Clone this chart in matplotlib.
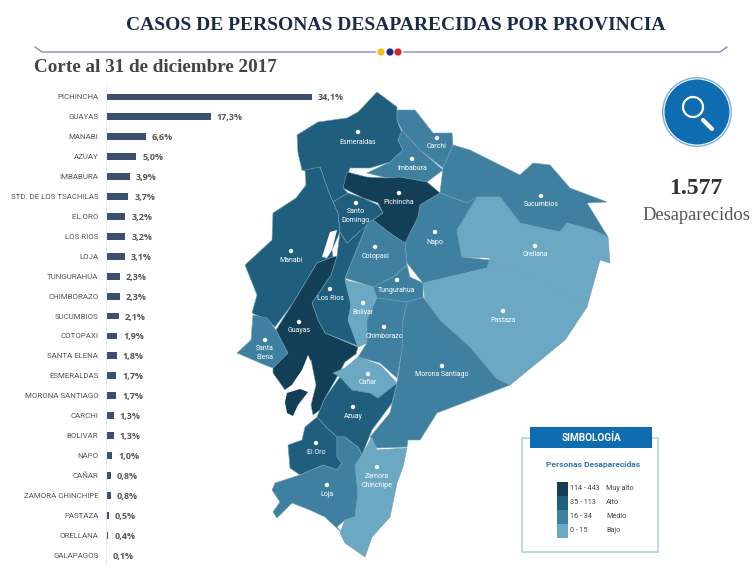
import matplotlib
matplotlib.use('Agg')
import matplotlib.pyplot as plt
from matplotlib.patches import Polygon, Circle, Rectangle

# Datos del grafico de barras
provincias = ['PICHINCHA', 'GUAYAS', 'MANABI', 'AZUAY', 'IMBABURA', 'STD. DE LOS TSACHILAS', 'EL ORO',
              'LOS RIOS', 'LOJA', 'TUNGURAHUA', 'CHIMBORAZO', 'SUCUMBIOS', 'COTOPAXI', 'SANTA ELENA',
              'ESMERALDAS', 'MORONA SANTIAGO', 'CARCHI', 'BOLIVAR', 'NAPO', 'CAÑAR', 'ZAMORA CHINCHIPE',
              'PASTAZA', 'ORELLANA', 'GALAPAGOS']
porcentajes = [34.1, 17.3, 6.6, 5.0, 3.9, 3.7, 3.2, 3.2, 3.1, 2.3, 2.3, 2.1, 1.9, 1.8, 1.7, 1.7,
               1.3, 1.3, 1.0, 0.8, 0.8, 0.5, 0.4, 0.1]

# Contornos de las provincias (pixeles de la imagen)
esmeraldas = [(297,135),(318,122),(347,118),(358,112),(377,92),(397,107),(397,120),(402,133),(398,140),(403,150),
              (390,162),(370,168),(350,168),(343,188),(348,193),(333,202),(328,190),(320,167),(308,172),(302,170),(298,153)]
manabi = [(305,170),(320,167),(328,190),(333,202),(338,213),(340,232),(332,250),(333,257),(317,263),(293,303),(275,327),
          (267,320),(252,313),(257,295),(245,265),(272,240),(273,213),(296,198),(306,185)]
santa_elena = [(253,315),(267,318),(276,330),(288,353),(273,368),(265,365),(237,353),(251,340)]
guayas = [(317,263),(333,257),(337,256),(331,275),(312,303),(318,320),(325,333),(358,347),(356,354),(345,362),(337,377),
          (325,398),(320,410),(313,415),(311,405),(316,385),(311,360),(306,365),(292,385),(285,390),(273,373),(273,368),
          (288,353),(276,330),(293,303)]
golfo = [(285,390),(292,385),(302,370),(308,355),(311,362),(314,385),(310,405),(305,420),(296,395),(287,393)]
puna = [(287,393),(300,389),(308,392),(298,405),(293,416),(287,413),(285,402)]
los_rios = [(340,232),(347,243),(358,233),(368,222),(345,278),(351,305),(348,320),(358,346),(325,333),(318,320),(312,303),
            (331,275),(337,256)]
laguna = [(337,230),(330,232),(322,257),(327,258),(332,250)]
sto_domingo = [(348,193),(363,198),(378,205),(383,213),(373,220),(358,233),(347,243),(340,232),(338,213),(333,202)]
pichincha = [(347,172),(367,177),(387,178),(400,177),(427,182),(440,193),(420,205),(418,217),(405,243),(390,233),(373,220),
             (383,213),(378,203),(363,198),(343,188)]
imbabura = [(367,173),(390,162),(403,150),(398,140),(402,130),(420,150),(443,170),(427,182),(400,177),(387,178)]
carchi = [(397,110),(415,110),(433,133),(452,133),(453,145),(443,168),(420,150),(402,130),(397,120)]
sucumbios = [(453,145),(470,150),(520,175),(533,163),(550,165),(570,188),(607,202),(587,203),(608,237),(593,230),(567,223),
             (560,232),(537,227),(520,223),(500,197),(477,197),(467,203),(440,193),(443,168)]
napo = [(440,193),(467,203),(477,197),(478,213),(457,230),(462,257),(490,260),(487,268),(457,275),(423,283),(407,263),
        (405,243),(418,217),(420,205)]
orellana = [(457,230),(477,197),(500,197),(520,223),(537,227),(560,232),(567,223),(593,230),(608,237),(610,263),(600,260),
            (587,307),(527,273),(487,268),(490,258),(462,257)]
pastaza = [(423,283),(457,275),(487,268),(527,273),(587,307),(565,340),(510,385),(497,379),(470,347),(440,320),(425,300)]
morona = [(510,385),(497,379),(470,347),(440,320),(423,297),(407,302),(403,320),(402,350),(397,383),(390,413),(370,437),
          (377,448),(407,447),(408,440),(420,440),(437,413)]
tungurahua = [(373,287),(393,277),(407,265),(410,277),(423,283),(423,297),(407,302),(393,300),(377,298)]
cotopaxi = [(368,222),(373,220),(390,233),(405,243),(407,265),(393,277),(373,287),(345,278)]
bolivar = [(345,280),(373,287),(377,298),(367,320),(367,343),(358,347),(348,320),(351,305)]
chimborazo = [(377,298),(393,300),(407,302),(403,320),(402,350),(397,378),(380,363),(358,357),(367,343),(367,320)]
canar = [(358,357),(380,365),(397,383),(378,398),(370,393),(352,390),(340,377),(333,373),(345,368)]
azuay = [(340,377),(352,390),(370,393),(378,398),(397,383),(392,403),(372,430),(362,455),(358,447),(345,437),(337,437),
         (327,428),(317,417),(325,398)]
el_oro = [(317,417),(327,428),(337,437),(337,457),(342,463),(337,470),(323,465),(300,475),(290,468),(288,445),(302,440),(305,427)]
loja = [(337,437),(345,437),(358,447),(362,455),(355,465),(358,493),(355,517),(345,520),(337,527),(342,533),(325,517),(310,510),
        (292,503),(277,518),(273,512),(280,502),(272,490),(275,483),(300,475),(323,465),(337,470),(342,463),(337,457)]
zamora = [(372,437),(377,450),(407,448),(403,467),(397,483),(390,517),(372,537),(365,557),(345,543),(340,533),(345,520),
          (355,517),(358,493),(355,465),(362,455)]

niveles = ['114 - 443', '35 - 113', '16 - 34', '0 - 15']
nombres_nivel = ['Muy alto', 'Alto', 'Medio', 'Bajo']
colores_nivel = ['#123f55', '#1f5f7d', '#3f80a0', '#6ba8c4']

mapa = [(esmeraldas, 1), (manabi, 1), (santa_elena, 2), (los_rios, 1), (guayas, 0), (sto_domingo, 1), (imbabura, 2),
        (carchi, 2), (sucumbios, 2), (napo, 2), (orellana, 3), (pastaza, 3), (morona, 2), (tungurahua, 2), (cotopaxi, 2),
        (bolivar, 3), (chimborazo, 2), (canar, 3), (azuay, 1), (el_oro, 1), (loja, 2), (zamora, 3), (pichincha, 0)]

# Nombres en el mapa: nombre, x del punto, y del punto, y del texto
etiquetas = [('Esmeraldas', 358, 132, 142), ('Carchi', 437, 138, 147), ('Imbabura', 412, 159, 168), ('Pichincha', 399, 193, 202),
             ('Santo\nDomingo', 356, 203, 216), ('Sucumbios', 541, 196, 205), ('Napo', 435, 232, 242), ('Orellana', 535, 246, 255),
             ('Manabí', 291, 251, 261), ('Cotopaxi', 375, 247, 257), ('Tungurahua', 397, 280, 290), ('Los Ríos', 330, 289, 299),
             ('Bolívar', 363, 303, 313), ('Pastaza', 503, 311, 320), ('Guayas', 299, 322, 331), ('Chimborazo', 384, 327, 337),
             ('Santa\nElena', 265, 340, 353), ('Morona Santiago', 442, 366, 375), ('Cañar', 368, 374, 383), ('Azuay', 353, 407, 416),
             ('El Oro', 316, 443, 452), ('Zamora\nChinchipe', 377, 467, 481), ('Loja', 327, 485, 495)]

fig = plt.figure(figsize=(7.55, 5.84), dpi=100)

# Capa de fondo en pixeles para mapa y adornos
bg = fig.add_axes([0, 0, 1, 1])
bg.set_xlim(0, 755)
bg.set_ylim(584, 0)
bg.axis('off')

for forma, nivel in mapa:
    bg.add_patch(Polygon(forma, closed=True, facecolor=colores_nivel[nivel], edgecolor='#6f9db5', linewidth=0.4))
bg.add_patch(Polygon(golfo, closed=True, facecolor='white', edgecolor='none'))
bg.add_patch(Polygon(puna, closed=True, facecolor=colores_nivel[0], edgecolor='none'))
bg.add_patch(Polygon(laguna, closed=True, facecolor='white', edgecolor='none'))

for nombre, x, y, yt in etiquetas:
    bg.add_patch(Circle((x, y), 2.2, facecolor='white', edgecolor='none'))
    bg.text(x, yt, nombre, color='white', fontsize=5, ha='center', va='center', family='Roboto', linespacing=1.3)

# Titulos
bg.text(396, 25, 'CASOS DE PERSONAS DESAPARECIDAS POR PROVINCIA', color='#1b2a4a', fontsize=14, fontweight='bold',
        family='Liberation Serif', ha='center', va='center')
bg.text(34, 68, 'Corte al 31 de diciembre 2017', color='#444444', fontsize=13.8, fontweight='bold',
        family='Liberation Serif', ha='left', va='center')

# Linea decorativa
bg.plot([35, 42, 375], [47, 52, 52], color='#8a8ac0', lw=1)
bg.plot([404, 720, 727], [52, 52, 47], color='#8a8ac0', lw=1)
for x, c in zip([381, 390, 398], ['#f5c211', '#1a2a8a', '#d8232a']):
    bg.add_patch(Circle((x, 52), 3.6, facecolor=c, edgecolor='none'))

# Icono lupa
bg.add_patch(Circle((697, 112), 35, facecolor='#7fb4d8', edgecolor='none'))
bg.add_patch(Circle((697, 112), 33.5, facecolor='white', edgecolor='none'))
bg.add_patch(Circle((697, 112), 32.5, facecolor='#0f6cb0', edgecolor='none'))
bg.add_patch(Circle((693, 107), 10, facecolor='none', edgecolor='white', lw=1.6))
bg.plot([703, 712], [120, 129], color='white', lw=3, solid_capstyle='round')

bg.text(696, 189, '1.577', color='#333333', fontsize=17, fontweight='bold', family='Liberation Serif', ha='center', va='center')
bg.text(696, 216, 'Desaparecidos', color='#555555', fontsize=13.3, family='Liberation Serif', ha='center', va='center')

# Leyenda
bg.add_patch(Rectangle((522, 438), 136, 114, facecolor='white', edgecolor='#b5d3e8', lw=1.2))
bg.add_patch(Rectangle((530, 427), 122, 21, facecolor='#0f6cb0', edgecolor='none'))
bg.text(591, 438, 'SIMBOLOGÍA', color='white', fontsize=7.2, fontweight='bold', family='Roboto', ha='center', va='center')
bg.text(593, 464, 'Personas Desaparecidas', color='#2f79ad', fontsize=6.1, fontweight='bold', family='Roboto', ha='center', va='center')
for i, (rango, nombre, c) in enumerate(zip(niveles, nombres_nivel, colores_nivel)):
    y = 489 + i * 14
    bg.add_patch(Rectangle((557, y - 7), 11, 14, facecolor=c, edgecolor='none'))
    bg.text(570, y, rango, color='#444444', fontsize=5.2, family='Roboto', ha='left', va='center')
    bg.text(606, y, nombre, color='#444444', fontsize=5.2, family='Roboto', ha='left', va='center')

# Barras
W, H = 755.0, 584.0
ax = fig.add_axes([106 / W, 1 - 565 / H, (312 - 106) / W, (565 - 85) / H])
ax.patch.set_alpha(0)
ax.barh(range(len(provincias)), porcentajes, height=0.34, color='#3b4f6e')
ax.set_xlim(0, 34.1)
ax.set_ylim(23.5, -0.6)
ax.set_yticks(range(len(provincias)))
ax.set_yticklabels(provincias, fontsize=5.7, color='#555555', family='Roboto')
ax.tick_params(axis='y', length=0, pad=5.5)
ax.set_xticks([])
for s in ['top', 'right', 'bottom']:
    ax.spines[s].set_visible(False)
ax.spines['left'].set_color('#e6ecf2')
for i, v in enumerate(porcentajes):
    ax.text(v + 1.0, i + 0.05, f'{v:.1f}%'.replace('.', ','), color='#555555', fontsize=6.5, fontweight='bold',
            family='Open Sans', va='center', ha='left', clip_on=False)

plt.savefig('out.png', dpi=100)
